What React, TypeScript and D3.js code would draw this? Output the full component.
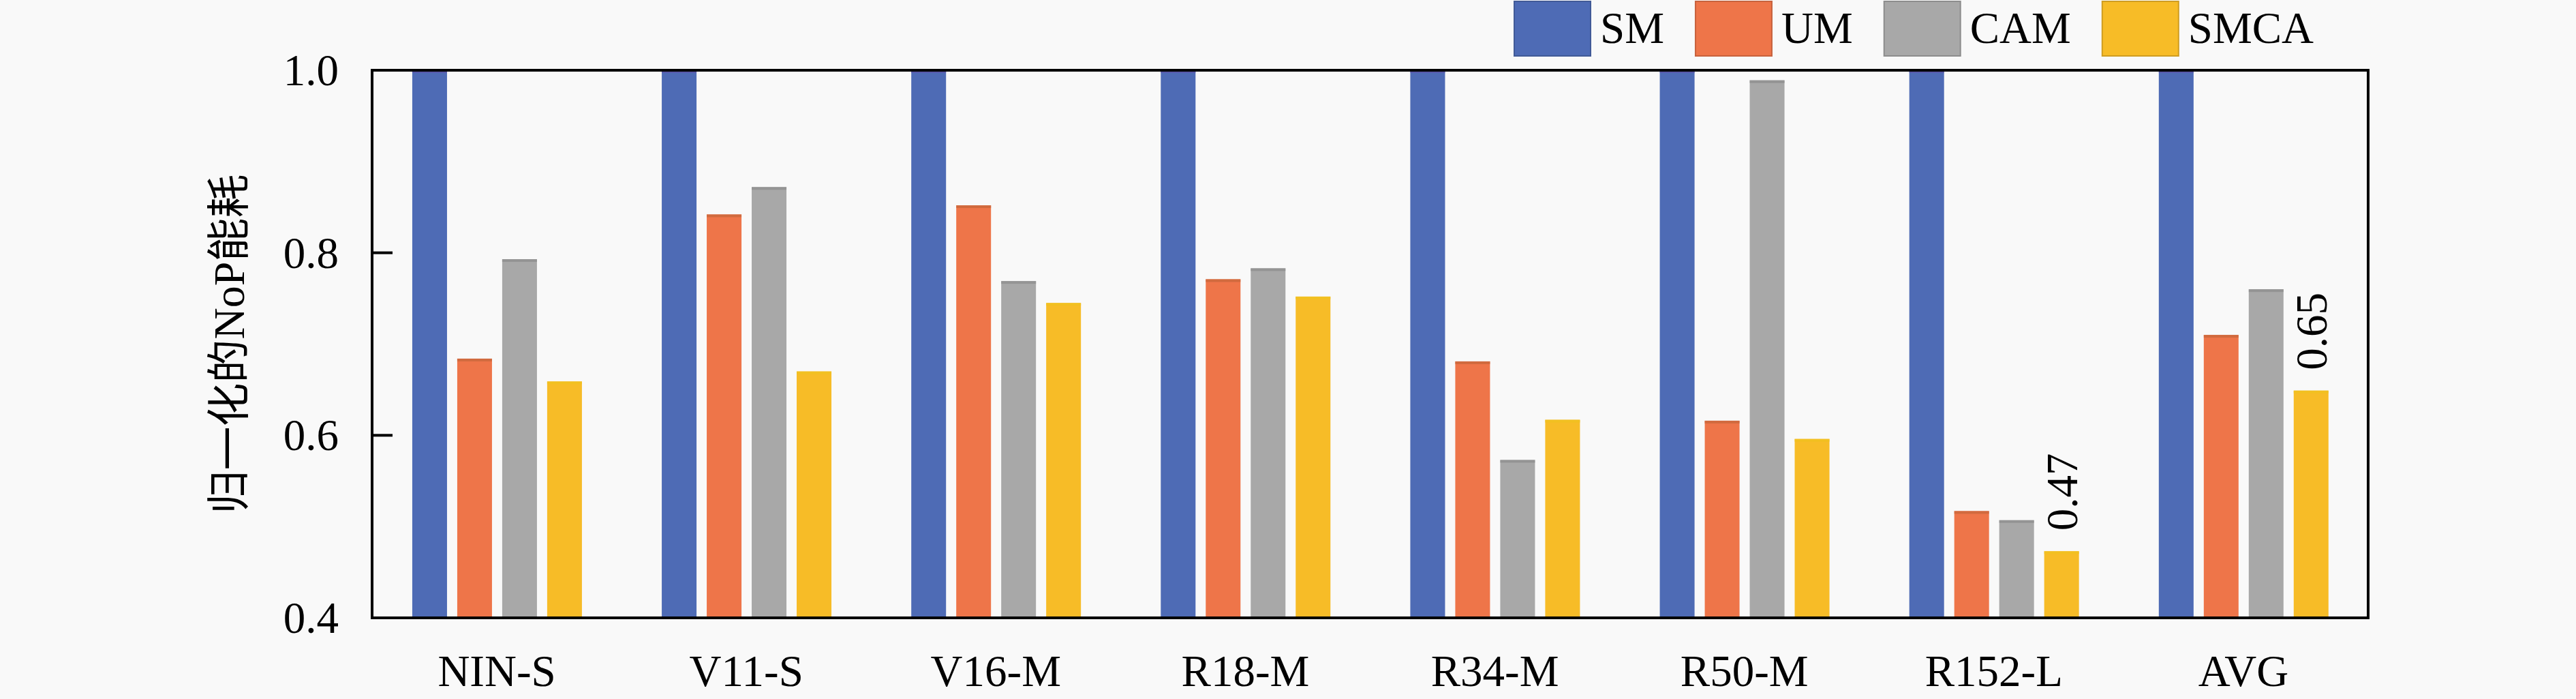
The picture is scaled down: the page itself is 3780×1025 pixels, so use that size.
import React, { useEffect, useRef } from 'react';
import * as d3 from 'd3';

// categories and series
const categories = ['NIN-S', 'V11-S', 'V16-M', 'R18-M', 'R34-M', 'R50-M', 'R152-L', 'AVG'];
const seriesNames = ['SM', 'UM', 'CAM', 'SMCA'];

const smValues = [1, 1, 1, 1, 1, 1, 1, 1];
const umValues = [0.684, 0.842, 0.852, 0.771, 0.681, 0.616, 0.517, 0.71];
const camValues = [0.793, 0.872, 0.769, 0.783, 0.573, 0.989, 0.507, 0.76];
const smcaValues = [0.659, 0.67, 0.745, 0.752, 0.617, 0.596, 0.473, 0.649];

const yTicks = [0.4, 0.6, 0.8, 1.0];

// value labels drawn over SMCA bars
const annotations = [
  { category: 'R152-L', value: 0.473, text: '0.47' },
  { category: 'AVG', value: 0.649, text: '0.65' },
];

const colors = ['#4e6bb5', '#ee7549', '#a8a8a8', '#f7bc27'];
const topEdge = ['#5a55a8', '#c9683c', '#8e8e8e', '#f0c020'];

const W = 3780;
const H = 1025;
const SERIF = '"Liberation Serif", "Times New Roman", serif';

export default function App() {
  const svgRef = useRef<SVGSVGElement>(null);

  useEffect(() => {
    if (!svgRef.current) return;
    const svg = d3.select(svgRef.current);
    svg.selectAll('*').remove();

    const margin = { top: 103, right: W - 3475, bottom: H - 906, left: 546 };
    const innerW = W - margin.left - margin.right;
    const innerH = H - margin.top - margin.bottom;

    svg.append('rect').attr('width', W).attr('height', H).attr('fill', '#f9f9f9');

    const values = [smValues, umValues, camValues, smcaValues];

    const x0 = d3.scaleBand<string>().domain(categories).range([0, innerW]).padding(0);
    const step = x0.bandwidth();
    const x1 = d3
      .scaleBand<string>()
      .domain(seriesNames)
      .range([step * 0.161, step * 0.841])
      .paddingInner(0.227)
      .paddingOuter(0);
    const y = d3.scaleLinear().domain([0.4, 1.0]).range([innerH, 0]);

    const g = svg.append('g').attr('transform', `translate(${margin.left},${margin.top})`);

    // bars
    categories.forEach((cat, ci) => {
      const cg = g.append('g').attr('transform', `translate(${x0(cat)},0)`);
      seriesNames.forEach((s, si) => {
        const v = values[si][ci];
        const bx = x1(s)!;
        cg.append('rect')
          .attr('x', bx)
          .attr('y', y(v))
          .attr('width', x1.bandwidth())
          .attr('height', innerH - y(v))
          .attr('fill', colors[si]);
        cg.append('rect')
          .attr('x', bx)
          .attr('y', y(v))
          .attr('width', x1.bandwidth())
          .attr('height', 4)
          .attr('fill', topEdge[si])
          .attr('opacity', 0.8);
      });
    });

    // annotations (rotated)
    annotations.forEach((a) => {
      const cx = x0(a.category)! + x1('SMCA')! + x1.bandwidth() / 2;
      const cy = y(a.value) - 30;
      g.append('text')
        .attr('transform', `translate(${cx},${cy}) rotate(-90)`)
        .attr('dy', '0.35em')
        .attr('text-anchor', 'start')
        .attr('font-family', SERIF)
        .attr('font-size', 65)
        .attr('fill', '#000')
        .text(a.text);
    });

    // frame
    g.append('rect')
      .attr('width', innerW)
      .attr('height', innerH)
      .attr('fill', 'none')
      .attr('stroke', '#000')
      .attr('stroke-width', 4);

    // y ticks inward
    yTicks.forEach((t) => {
      g.append('line')
        .attr('x1', 0)
        .attr('x2', 30)
        .attr('y1', y(t))
        .attr('y2', y(t))
        .attr('stroke', '#000')
        .attr('stroke-width', 4);
      g.append('text')
        .attr('x', -49)
        .attr('y', y(t))
        .attr('dy', '0.34em')
        .attr('text-anchor', 'end')
        .attr('font-family', SERIF)
        .attr('font-size', 65)
        .attr('fill', '#000')
        .text(d3.format('.1f')(t));
    });

    // x labels
    categories.forEach((cat) => {
      g.append('text')
        .attr('x', x0(cat)! + step / 2)
        .attr('y', innerH + 100)
        .attr('text-anchor', 'middle')
        .attr('font-family', SERIF)
        .attr('font-size', 65)
        .attr('fill', '#000')
        .text(cat);
    });

    // y-axis title
    svg.append('text')
      .attr('transform', `translate(336,${margin.top + innerH / 2}) rotate(-90)`)
      .attr('dy', '0.35em')
      .attr('text-anchor', 'middle')
      .attr('font-family', `${SERIF.split(',')[0]}, "Noto Sans CJK SC", sans-serif`)
      .attr('font-size', 64)
      .attr('fill', '#000')
      .text('归一化的NoP能耗');

    // legend
    const lg = svg.append('g').attr('transform', 'translate(2222,0)');
    let lx = 0;
    seriesNames.forEach((s, si) => {
      lg.append('rect')
        .attr('x', lx)
        .attr('y', 2)
        .attr('width', 112)
        .attr('height', 80)
        .attr('fill', colors[si])
        .attr('stroke', d3.color(colors[si])!.darker(0.5).formatHex())
        .attr('stroke-width', 2);
      const t = lg.append('text')
        .attr('x', lx + 126)
        .attr('y', 63)
        .attr('font-family', SERIF)
        .attr('font-size', 65)
        .attr('fill', '#000')
        .text(s);
      const tw = (t.node() as SVGTextElement).getComputedTextLength();
      lx += 126 + tw + 46;
    });
  }, []);

  return (
    <div style={{ position: 'absolute', left: 0, top: 0 }}>
      <svg ref={svgRef} width={W} height={H} viewBox={`0 0 ${W} ${H}`} style={{ display: 'block' }} />
    </div>
  );
}
